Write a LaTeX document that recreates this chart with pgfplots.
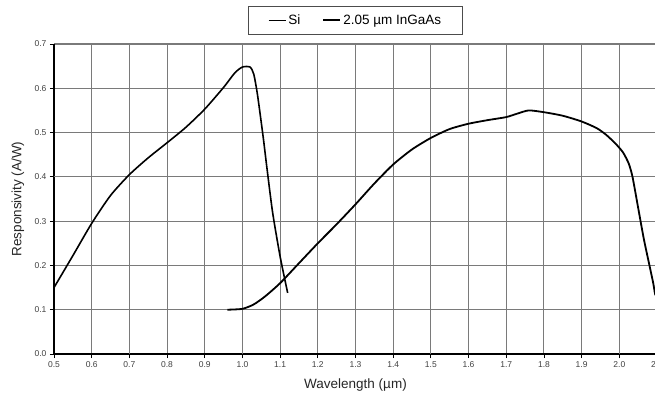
\documentclass[border=0pt]{standalone}
\usepackage{fontspec}
\setmainfont{Liberation Sans}
\usepackage{pgfplots}
\pgfplotsset{compat=1.18}
\usetikzlibrary{calc}
\begin{document}
\begin{tikzpicture}
\begin{axis}[
  name=ax,
  at={(0,0)}, anchor=south west,
  scale only axis, width=603pt, height=310pt,
  xmin=0.5, xmax=2.1, ymin=0, ymax=0.7,
  xtick={0.5,0.6,...,2.11}, ytick={0,0.1,...,0.71},
  axis lines=left, axis line style={black, line width=1.2pt, -},
  tick align=outside, major tick length=4pt,
  tick style={black, line width=0.8pt},
  grid=major, major grid style={black!52, line width=1.05pt},
  extra x ticks={0.7,1.0,1.5,2.0}, extra x tick labels={},
  extra y ticks={0.4}, extra y tick labels={},
  extra tick style={grid style={black!80, line width=1.4pt}},
  /pgf/number format/assume math mode=true,
  /pgf/number format/.cd, fixed, fixed zerofill, precision=1, /pgfplots/.cd,
  ticklabel style={font=\fontsize{8.5}{10}\selectfont, text=black!75},
  xlabel={Wavelength (µm)}, ylabel={Responsivity (A/W)},
  label style={font=\fontsize{13.5}{16}\selectfont, text=black!85},
  xlabel style={at={(axis description cs:0.5,-0.1)}, anchor=center},
  ylabel style={at={(axis description cs:-0.06,0.5)}, anchor=center, rotate=0},
  legend columns=2,
  legend style={at={(0.5,1)}, anchor=south, yshift=9pt,
    font=\fontsize{13.5}{16}\selectfont, draw=black!70, line width=1pt,
    inner xsep=19pt, inner ysep=6.5pt,
    /tikz/every even column/.append style={column sep=20pt}},
  legend image code/.code={\draw[#1] (0pt,0pt) -- (17pt,0pt);},
]
\addplot[black, line width=1.6pt, smooth, tension=0.4] coordinates {
(0.5,0.15) (0.55,0.222) (0.6,0.295) (0.65,0.358) (0.7,0.405) (0.75,0.443)
(0.8,0.477) (0.85,0.512) (0.9,0.553) (0.95,0.602) (0.98,0.635) (1.0,0.648)
(1.02,0.648) (1.03,0.632) (1.04,0.585) (1.055,0.49) (1.065,0.42) (1.08,0.32)
(1.1,0.22) (1.12,0.138)
};
\addlegendentry{Si}
\addplot[black, line width=1.8pt, smooth, tension=0.4] coordinates {
(0.96,0.10) (1.0,0.102) (1.03,0.112) (1.06,0.13) (1.1,0.16) (1.15,0.205)
(1.2,0.25) (1.25,0.293) (1.3,0.338) (1.35,0.385) (1.4,0.428) (1.45,0.462)
(1.5,0.488) (1.55,0.508) (1.6,0.52) (1.65,0.528) (1.7,0.535) (1.73,0.543)
(1.76,0.55) (1.8,0.546) (1.85,0.538) (1.9,0.525) (1.94,0.51) (1.965,0.495)
(1.99,0.475) (2.01,0.455) (2.025,0.43) (2.035,0.40) (2.05,0.33) (2.065,0.26)
(2.08,0.2) (2.09,0.16) (2.095,0.135) (2.1,0.128)
};
\addlegendentry{2.05 µm InGaAs}
\end{axis}
\pgfresetboundingbox
\useasboundingbox ($(ax.south west)+(-54pt,-43pt)$) rectangle ($(ax.south west)+(601pt,354pt)$);
\end{tikzpicture}
\end{document}
